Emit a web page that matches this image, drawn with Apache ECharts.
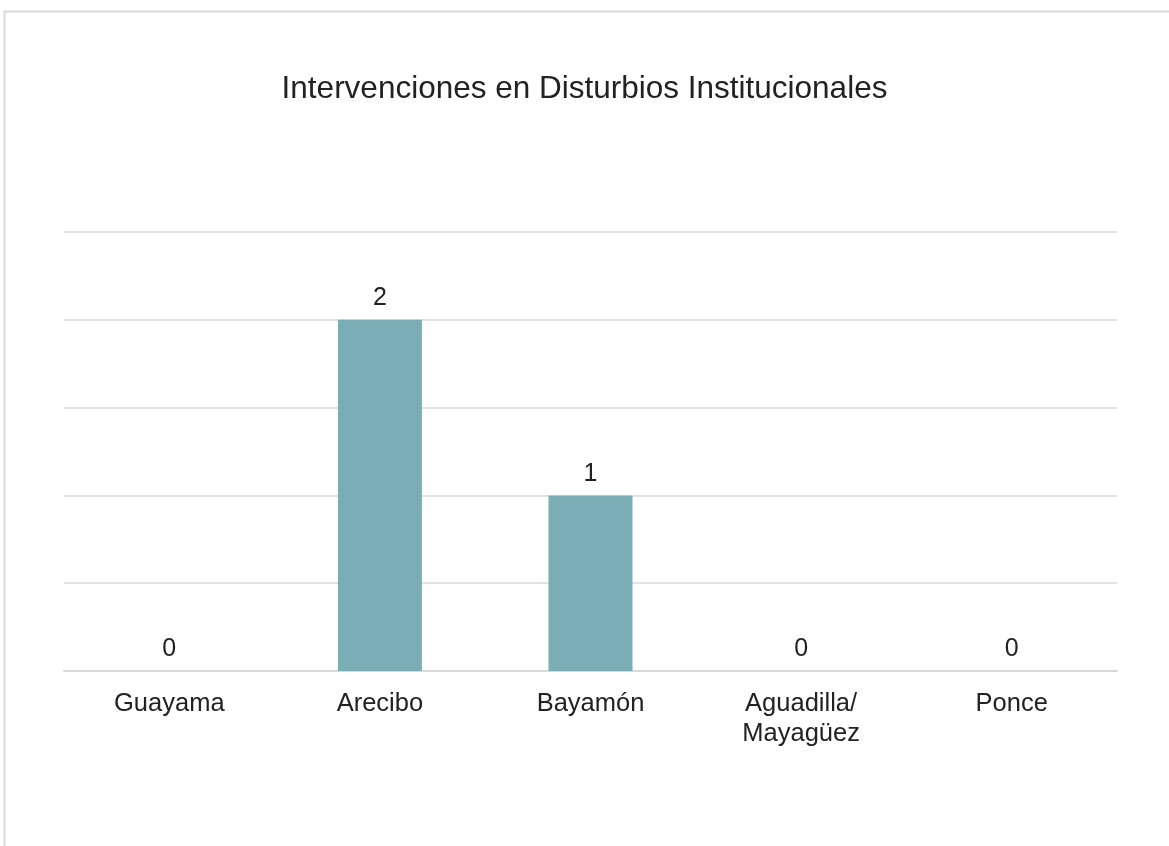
<!DOCTYPE html>
<html>
<head>
<meta charset="utf-8">
<script src="https://cdn.jsdelivr.net/npm/echarts@6/dist/echarts.min.js"></script>
<style>
html, body { margin: 0; padding: 0; background: #fff; }
#chart { width: 1169px; height: 846px; }
</style>
</head>
<body>
<div id="chart"></div>
<script>
// datos
const regiones = ['Guayama', 'Arecibo', 'Bayamón', 'Aguadilla/\nMayagüez', 'Ponce'];
const intervenciones = [0, 2, 1, 0, 0];

const fuente = "'Liberation Sans', Arial, sans-serif";
const chart = echarts.init(document.getElementById('chart'));

const option = {
  animation: false,
  backgroundColor: '#fff',
  textStyle: { fontFamily: fuente },
  graphic: [{
    type: 'rect',
    left: 2, top: 9,
    shape: { width: 1300, height: 1000 },
    style: { fill: 'none', stroke: '#d9d9d9', lineWidth: 2 },
    silent: true
  }],
  title: {
    text: 'Intervenciones en Disturbios Institucionales',
    left: 'center',
    top: 68,
    textStyle: { fontSize: 31.5, fontWeight: 'normal', color: '#222', fontFamily: fuente }
  },
  grid: { left: 64, right: 52, top: 232, bottom: 175 },
  xAxis: {
    type: 'category',
    data: regiones,
    axisLine: { lineStyle: { color: '#d9d9d9', width: 2 } },
    axisTick: { show: false },
    axisLabel: { fontSize: 25.5, color: '#222', margin: 18, lineHeight: 30, fontFamily: fuente }
  },
  yAxis: {
    type: 'value',
    min: 0, max: 2.5, interval: 0.5,
    axisLabel: { show: false },
    axisLine: { show: false },
    axisTick: { show: false },
    splitLine: { lineStyle: { color: '#d9d9d9', width: 1.5 } }
  },
  series: [{
    type: 'bar',
    data: intervenciones,
    barWidth: 84,
    itemStyle: { color: '#7AADB6' },
    label: { show: true, position: 'top', distance: 9, fontSize: 25, color: '#222', fontFamily: fuente }
  }]
};

chart.setOption(option);
</script>
</body>
</html>
